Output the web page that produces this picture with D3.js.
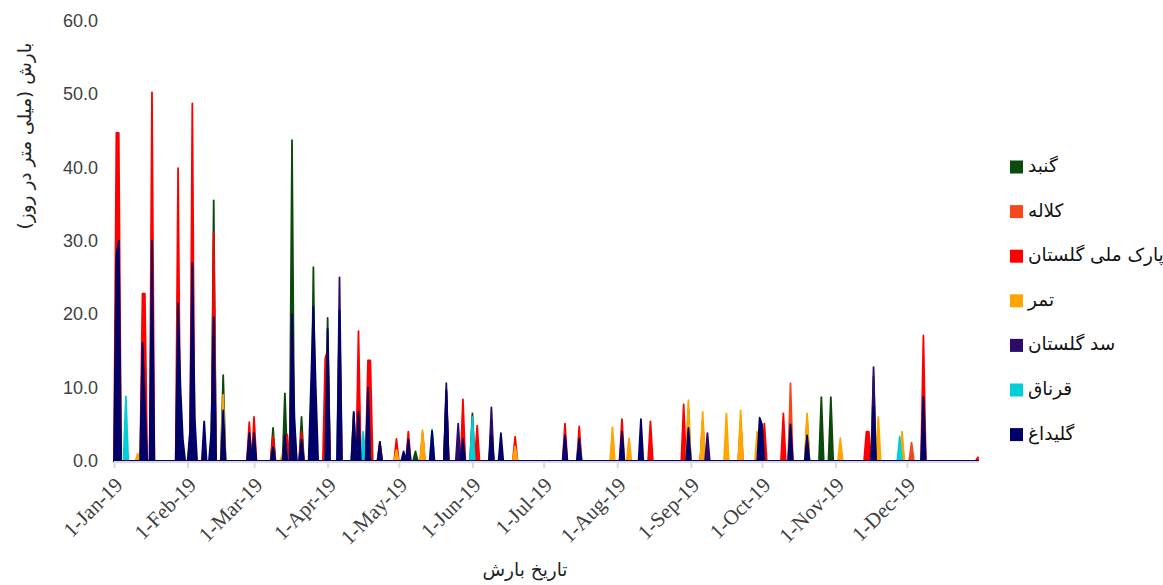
<!DOCTYPE html>
<html>
<head>
<meta charset="utf-8">
<script src="https://cdn.jsdelivr.net/npm/d3@7"></script>
<style>
  body { margin: 0; background: #fff; }
</style>
</head>
<body>
<div id="chart"></div>
<script>
// Data: only rainy days are listed (MM-DD, mm/day), every other day of 2019 is 0
const seriesNames = ['گنبد', 'کلاله', 'پارک ملی گلستان', 'تمر', 'سد گلستان', 'قرناق', 'گلیداغ']
const seriesColors = ['#0a4a0a', '#f4471c', '#ff0000', '#ffa500', '#2d0b6b', '#00cfd6', '#000066']

const gonbad = [
  ['02-12', 35.5], ['02-16', 11.7], ['03-09', 4.5], ['03-14', 9.2], ['03-17', 43.7], ['03-21', 6],
  ['03-26', 26.4], ['04-01', 19.5], ['04-12', 6.5], ['05-08', 1.3], ['06-01', 6.5], ['08-31', 7],
  ['10-26', 8.7], ['10-30', 8.7], ['11-17', 11.5]
]
const kalaleh = [
  ['06-19', 1.5], ['09-06', 4.5], ['10-13', 10.6], ['12-03', 2.5]
]
const parkMelli = [
  ['01-02', 44.7], ['01-03', 44.7], ['01-13', 22.8], ['01-14', 22.8], ['01-17', 50.2], ['01-28', 39.9],
  ['02-03', 48.7], ['02-12', 31.1], ['02-27', 5.3], ['03-01', 6.0], ['03-09', 3.4], ['03-15', 3.6],
  ['03-17', 18], ['03-21', 4.0], ['03-31', 14], ['04-01', 15.1], ['04-14', 17.7], ['04-18', 13.7],
  ['04-19', 13.7], ['04-23', 2.6], ['04-30', 3.0], ['05-05', 4.0], ['05-11', 3.8], ['05-21', 9.5],
  ['05-28', 8.4], ['06-03', 4.8], ['06-09', 5.1], ['06-19', 3.3], ['07-10', 5.1], ['07-16', 4.7],
  ['08-03', 5.7], ['08-15', 5.4], ['08-29', 7.7], ['08-31', 5.1], ['09-06', 5.4], ['09-22', 5.4],
  ['10-02', 5.1], ['10-10', 6.5], ['10-20', 5.7], ['11-14', 4.0], ['11-15', 4.0], ['12-08', 17.1],
  ['12-31', 0.5]
]
const tamar = [
  ['01-11', 1], ['02-16', 9], ['03-13', 1], ['04-30', 1.5], ['05-11', 4.2], ['06-19', 2],
  ['07-30', 4.6], ['08-06', 3.1], ['08-31', 8.3], ['09-06', 6.7], ['09-16', 6.5], ['09-22', 6.9],
  ['09-29', 4], ['10-20', 6.5], ['11-03', 3.1], ['11-19', 6], ['11-29', 4]
]
const sadGolestan = [
  ['04-06', 25], ['05-21', 10.6], ['05-26', 5.1], ['06-09', 7.3], ['09-08', 3.8], ['11-17', 12.8]
]
const gharnagh = [
  ['01-06', 8.8], ['03-17', 10], ['03-18', 4], ['03-26', 5], ['04-01', 6], ['04-16', 4],
  ['05-15', 4.3], ['06-01', 6], ['07-16', 2.8], ['10-20', 2.7], ['11-28', 3.3]
]
const galidagh = [
  ['01-02', 28], ['01-03', 30], ['01-13', 16.1], ['01-14', 8], ['01-17', 30], ['01-28', 21.5],
  ['01-29', 10], ['01-30', 3], ['02-02', 4], ['02-03', 27], ['02-04', 6], ['02-08', 5.4],
  ['02-11', 4], ['02-12', 19.6], ['02-16', 6.9], ['02-27', 3.8], ['03-01', 3.8], ['03-09', 1.9],
  ['03-14', 3.5], ['03-17', 20], ['03-18', 6], ['03-21', 2.9], ['03-25', 10.5], ['03-26', 21],
  ['03-27', 10], ['04-01', 18], ['04-06', 20.5], ['04-12', 6.7], ['04-14', 6.7], ['04-18', 10],
  ['04-23', 2.6], ['05-03', 1.3], ['05-05', 2.9], ['05-15', 4.1], ['05-21', 9.7], ['05-28', 3],
  ['06-09', 3.5], ['06-13', 3.8], ['07-10', 3.5], ['07-16', 3], ['08-03', 4], ['08-11', 5.7],
  ['08-31', 4.5], ['09-30', 5.9], ['10-01', 5], ['10-13', 5], ['10-20', 3.5], ['11-17', 7.4],
  ['12-08', 8.7]
]
const rainDays = [gonbad, kalaleh, parkMelli, tamar, sadGolestan, gharnagh, galidagh]

const yTicks = [0, 10, 20, 30, 40, 50, 60]
const yTitle = 'بارش (میلی متر در روز)'
const xTitle = 'تاریخ بارش'

// Dimensions
const dimensions = {
  width: 1163,
  height: 585,
  left: 114,
  right: 978,
  top: 20.5,
  bottom: 461
}

// every day of the year, zero when no rain was listed
const days = d3.timeDay.range(new Date(2019, 0, 1), new Date(2020, 0, 1))
const monthDay = d3.timeFormat('%m-%d')
const series = rainDays.map((list, i) => {
  const lookup = new Map(list)
  return {
    name: seriesNames[i],
    color: seriesColors[i],
    values: days.map(d => ({ date: d, value: lookup.get(monthDay(d)) || 0 }))
  }
})

const svg = d3.select('#chart')
  .append('svg')
  .attr('width', dimensions.width)
  .attr('height', dimensions.height)

// Scales
const xScale = d3.scaleTime()
  .domain([days[0], days[days.length - 1]])
  .range([dimensions.left, dimensions.right])
const yScale = d3.scaleLinear()
  .domain([0, 60])
  .range([dimensions.bottom, dimensions.top])

// Areas (first series at the back, as Excel draws them), with a thin border of the same colour
const area = d3.area()
  .x(d => xScale(d.date))
  .y0(yScale(0))
  .y1(d => yScale(d.value))

svg.append('g')
  .selectAll('path')
  .data(series)
  .join('path')
  .attr('d', d => area(d.values))
  .attr('fill', d => d.color)
  .attr('stroke', d => d.color)
  .attr('stroke-width', 1.8)
  .attr('stroke-linejoin', 'round')

// X axis
const xAxis = d3.axisBottom(xScale)
  .ticks(d3.timeMonth.every(1))
  .tickFormat(d3.timeFormat('%-d-%b-%y'))
  .tickSize(6)
  .tickSizeOuter(0)
const xAxisGroup = svg.append('g')
  .attr('transform', `translate(0, ${dimensions.bottom + 1})`)
  .call(xAxis)
xAxisGroup.select('.domain').attr('stroke', '#d9d9d9').attr('stroke-width', 2)
  .attr('d', `M${dimensions.left},0H${dimensions.right + 1}`)
xAxisGroup.selectAll('.tick line').attr('stroke', '#d9d9d9').attr('stroke-width', 2)
xAxisGroup.selectAll('.tick text')
  .attr('font-family', '"Liberation Serif", "Times New Roman", serif')
  .attr('font-size', 21)
  .attr('fill', '#404040')
  .attr('text-anchor', 'end')
  .attr('dy', 0)
  .attr('transform', 'translate(3, 18) rotate(-45)')

// Y axis: labels only
const yAxis = d3.axisLeft(yScale)
  .tickValues(yTicks)
  .tickFormat(d3.format('.1f'))
  .tickSize(0)
  .tickPadding(16)
const yAxisGroup = svg.append('g')
  .attr('transform', `translate(${dimensions.left}, 0)`)
  .call(yAxis)
yAxisGroup.select('.domain').remove()
yAxisGroup.selectAll('.tick text')
  .attr('font-family', '"Liberation Sans", Arial, sans-serif')
  .attr('font-size', 18)
  .attr('fill', '#404040')

// Titles
svg.append('text')
  .attr('transform', 'translate(26, 136) rotate(-90)')
  .attr('text-anchor', 'middle')
  .attr('dominant-baseline', 'middle')
  .attr('font-family', '"DejaVu Sans", sans-serif')
  .attr('font-size', 18.5)
  .attr('fill', '#222')
  .text(yTitle)

svg.append('text')
  .attr('x', 525)
  .attr('y', 576)
  .attr('text-anchor', 'middle')
  .attr('font-family', '"DejaVu Sans", sans-serif')
  .attr('font-size', 18.5)
  .attr('fill', '#222')
  .text(xTitle)

// Legend
const legend = svg.append('g')
  .attr('transform', 'translate(1010, 167)')
const legendItems = legend.selectAll('g')
  .data(series)
  .join('g')
  .attr('transform', (d, i) => `translate(0, ${i * 44.6})`)
legendItems.append('rect')
  .attr('x', 0)
  .attr('y', -6.5)
  .attr('width', 13)
  .attr('height', 13)
  .attr('fill', d => d.color)
legendItems.append('text')
  .attr('x', 18)
  .attr('y', 0)
  .attr('dominant-baseline', 'middle')
  .attr('font-family', '"DejaVu Sans", sans-serif')
  .attr('font-size', 18.5)
  .attr('fill', '#111')
  .text(d => d.name)
</script>
</body>
</html>
